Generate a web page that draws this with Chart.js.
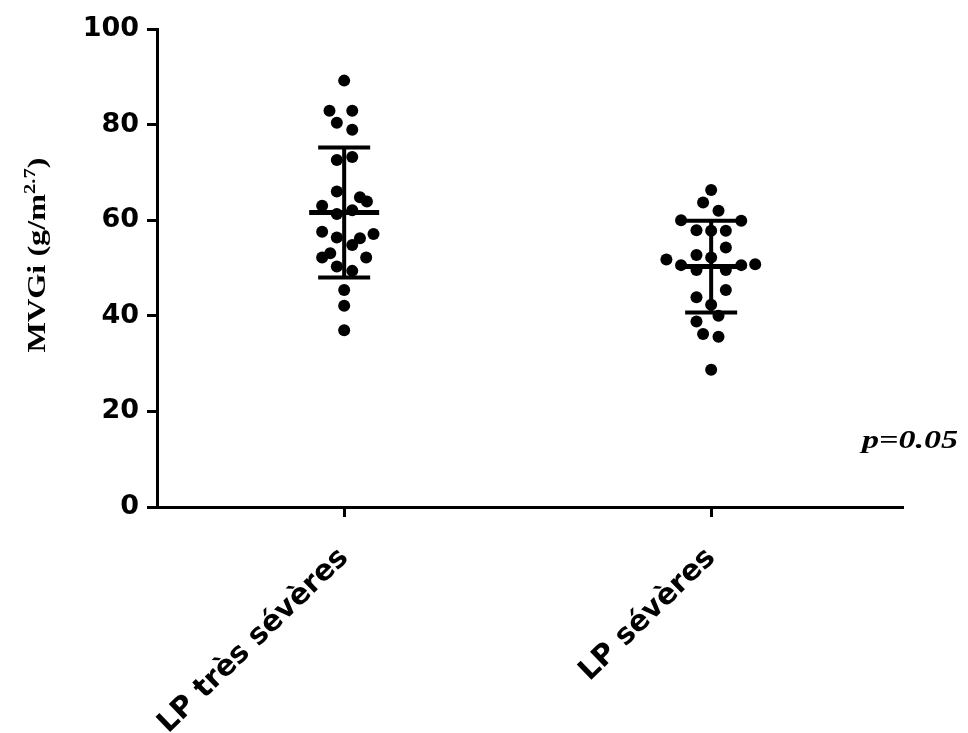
<!DOCTYPE html>
<html>
<head>
<meta charset="utf-8">
<script src="https://cdn.jsdelivr.net/npm/chart.js@4"></script>
<style>
  html, body { margin: 0; padding: 0; background: #fff; }
  #wrap { width: 968px; height: 733px; }
</style>
</head>
<body>
<div id="wrap"><canvas id="mvgiChart" width="968" height="733"></canvas></div>
<script>
// Groups and y ticks
const categories = ['LP très sévères', 'LP sévères'];
const yTicks = [0, 20, 40, 60, 80, 100];

// MVGi values, group 1 (LP très sévères)
const tresSeveres = [89.2, 82.9, 82.9, 80.4, 78.9, 72.6, 73.2, 66.0, 64.8, 63.9, 63.0, 61.3, 62.1,
    57.6, 56.4, 56.2, 57.1, 54.8, 52.2, 53.1, 52.2, 50.3, 49.4, 45.4, 42.1, 37.0];
// horizontal scatter of the dots (in category units)
const tresSeveresJitter = [0, -0.04, 0.022, -0.02, 0.022, -0.02, 0.022, -0.02, 0.043, 0.062, -0.06, -0.02, 0.022,
    -0.06, -0.02, 0.043, 0.08, 0.022, -0.06, -0.038, 0.06, -0.02, 0.022, 0, 0, 0];

// MVGi values, group 2 (LP sévères)
const severes = [66.3, 63.7, 62.0, 60.0, 59.9, 57.9, 57.8, 57.8, 54.3, 52.7, 52.2, 51.8, 50.6,
    49.6, 49.6, 50.6, 50.8, 45.4, 43.9, 42.3, 40.0, 38.8, 36.2, 35.6, 28.7];
const severesJitter = [0, -0.022, 0.02, -0.082, 0.082, -0.04, 0, 0.04, 0.04, -0.04, 0, -0.122, -0.082,
    -0.04, 0.04, 0.082, 0.12, 0.04, -0.04, 0, 0.02, -0.04, -0.022, 0.02, 0];

// mean +/- SD shown on the plot
const means = [61.6, 50.3];
const sds = [13.6, 9.6];
const pValue = 'p=0.05';

const toPoints = (vals, jit, pos) => vals.map((v, i) => ({ x: pos + jit[i], y: v }));

// mean line + SD whiskers
const errorBars = {
    id: 'errorBars',
    afterDatasetsDraw(chart) {
        const { ctx, scales: { x, y } } = chart;
        ctx.save();
        ctx.strokeStyle = '#000';
        ctx.lineCap = 'butt';
        means.forEach((m, i) => {
            const px = x.getPixelForValue(i + 1);
            const top = y.getPixelForValue(m + sds[i]);
            const bot = y.getPixelForValue(m - sds[i]);
            const mid = y.getPixelForValue(m);
            ctx.lineWidth = 4;
            ctx.beginPath();
            ctx.moveTo(px, top); ctx.lineTo(px, bot);
            ctx.moveTo(px - 26, top); ctx.lineTo(px + 26, top);
            ctx.moveTo(px - 26, bot); ctx.lineTo(px + 26, bot);
            ctx.stroke();
            ctx.lineWidth = 5;
            ctx.beginPath();
            ctx.moveTo(px - 35, mid); ctx.lineTo(px + 35, mid);
            ctx.stroke();
        });
        ctx.restore();
    }
};

// y title with superscript, and p value
const extraText = {
    id: 'extraText',
    afterDraw(chart) {
        const ctx = chart.ctx;
        ctx.save();
        ctx.fillStyle = '#000';
        ctx.textBaseline = 'alphabetic';
        const mainFont = 'bold 22px "Liberation Serif"';
        const supFont = 'bold 14px "Liberation Serif"';
        ctx.font = mainFont;
        const w1 = ctx.measureText('MVGi (g/m').width;
        const w3 = ctx.measureText(')').width;
        ctx.font = supFont;
        const w2 = ctx.measureText('2.7').width;
        const total = w1 + w2 + w3;
        ctx.translate(45, 255);
        ctx.rotate(-Math.PI / 2);
        ctx.scale(195 / total, 1.15);
        let cx = -total / 2;
        ctx.font = mainFont;
        ctx.fillText('MVGi (g/m', cx, 0);
        cx += w1;
        ctx.font = supFont;
        ctx.fillText('2.7', cx, -9);
        cx += w2;
        ctx.font = mainFont;
        ctx.fillText(')', cx, 0);
        ctx.restore();

        ctx.save();
        ctx.fillStyle = '#000';
        ctx.font = 'bold italic 26px "Liberation Serif"';
        const pw = ctx.measureText(pValue).width;
        ctx.translate(862, 448);
        ctx.scale(96 / pw, 1);
        ctx.fillText(pValue, 0, 0);
        ctx.restore();
    }
};

document.addEventListener('DOMContentLoaded', () => {
    const ctx = document.getElementById('mvgiChart').getContext('2d');
    new Chart(ctx, {
        type: 'scatter',
        data: {
            datasets: [
                { label: categories[0], data: toPoints(tresSeveres, tresSeveresJitter, 1) },
                { label: categories[1], data: toPoints(severes, severesJitter, 2) }
            ]
        },
        options: {
            responsive: false,
            animation: false,
            layout: { padding: { left: 0, top: 29, right: 66, bottom: 0 } },
            elements: {
                point: { radius: 6, backgroundColor: '#000', borderWidth: 0, hoverRadius: 6 }
            },
            plugins: {
                legend: { display: false },
                tooltip: { enabled: false }
            },
            scales: {
                x: {
                    type: 'linear',
                    min: 0.49,
                    max: 2.52,
                    afterBuildTicks: (scale) => { scale.ticks = [{ value: 1 }, { value: 2 }]; },
                    afterFit: (scale) => { scale.height = 226; },
                    ticks: {
                        autoSkip: false,
                        maxRotation: 44,
                        minRotation: 44,
                        padding: 24,
                        color: '#000',
                        font: { family: 'DejaVu Sans', weight: 'bold', size: 29 },
                        callback: (v) => categories[v - 1]
                    },
                    grid: { drawOnChartArea: false, tickLength: 10, color: '#000', lineWidth: 3 },
                    border: { color: '#000', width: 3 }
                },
                y: {
                    min: 0,
                    max: 100,
                    afterBuildTicks: (scale) => { scale.ticks = yTicks.map(v => ({ value: v })); },
                    afterFit: (scale) => { scale.width = 157; },
                    ticks: {
                        padding: 8,
                        color: '#000',
                        font: { family: 'DejaVu Sans', weight: 'bold', size: 27 }
                    },
                    grid: { drawOnChartArea: false, tickLength: 10, color: '#000', lineWidth: 3 },
                    border: { color: '#000', width: 3 }
                }
            }
        },
        plugins: [errorBars, extraText]
    });
});
</script>
</body>
</html>
